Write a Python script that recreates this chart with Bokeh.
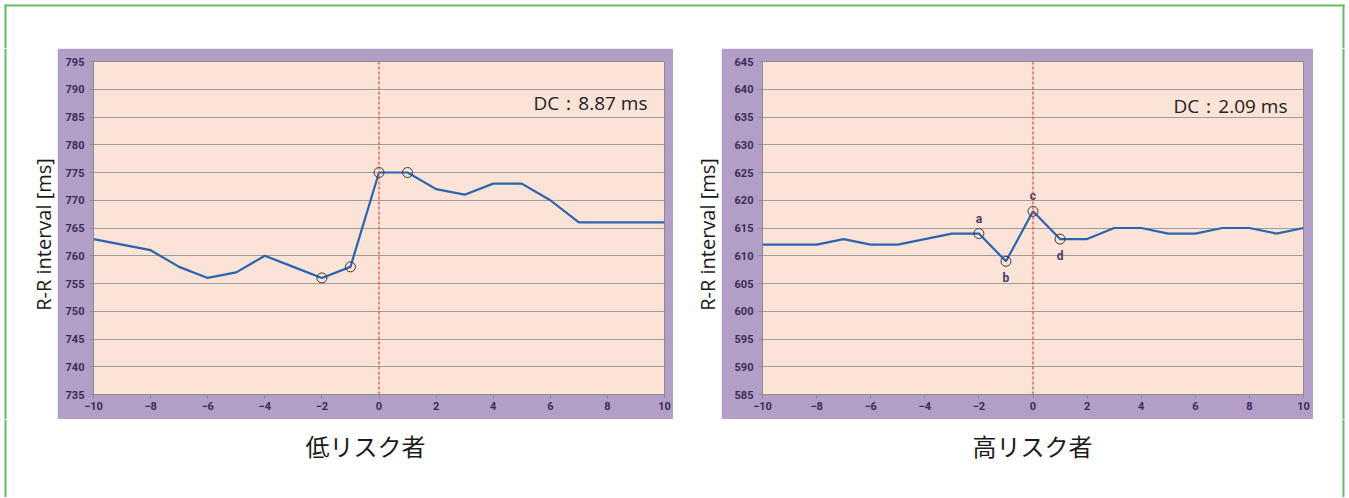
import math
from bokeh.plotting import figure
from bokeh.models import BoxAnnotation, Label, Span, Range1d, ColumnDataSource, FixedTicker
from bokeh.layouts import row, column
from bokeh.embed import file_html
from bokeh.resources import INLINE
from bokeh.core.properties import value

# ---------------- data ----------------
lags = list(range(-10, 11))
low_rr = [763, 762, 761, 758, 756, 757, 760, 758, 756, 758, 775,
          775, 772, 771, 773, 773, 770, 766, 766, 766, 766]
high_rr = [612, 612, 612, 613, 612, 612, 613, 614, 614, 609, 618,
           613, 613, 615, 615, 614, 614, 615, 615, 614, 615]
x_ticks = list(range(-10, 11, 2))
low_yticks = list(range(735, 796, 5))
high_yticks = list(range(585, 646, 5))
marked_lags = [-2, -1, 0, 1]
marker_names = ["a", "b", "c", "d"]
marker_above = [True, False, True, False]
low_title = "低リスク者"
high_title = "高リスク者"
low_dc = "DC：8.87 ms"
high_dc = "DC：2.09 ms"
y_label = "R-R interval [ms]"

# ---------------- style ----------------
PURPLE = "#b39ec8"
PINK = "#fbe3d8"
GRID = "#9c9c9c"
BLUE = "#2a64ad"
RED = "#e8413c"
GREEN = "#66bb66"
TICK_TXT = "#3a2c58"
JP = "Noto Sans CJK JP"
LAT = "Open Sans"
TICK_FONT = "Roboto"
TOTAL_W = 1348
TOP_H = 48
MID_H = 371
BOT_H = 78
B_TOP = 13
B_BOT = 25


def blank(w, h, top=0, bottom=0, left=0, right=0):
    f = figure(width=w, height=h, output_backend="svg", toolbar_location=None,
               min_border_left=left, min_border_right=right,
               min_border_top=top, min_border_bottom=bottom,
               x_axis_type=None, y_axis_type=None,
               x_range=Range1d(0, 1), y_range=Range1d(0, 1))
    f.outline_line_color = None
    f.background_fill_color = "white"
    f.border_fill_color = "white"
    return f


def green_box(f, l, r, b, t):
    f.add_layout(BoxAnnotation(left=l, right=r, bottom=b, top=t,
                               left_units="screen", right_units="screen",
                               bottom_units="screen", top_units="screen",
                               fill_color=GREEN, fill_alpha=1, line_alpha=0))


def side_strip(w, label_x=None, green_x=None):
    # a white strip of the middle row; its frame covers the full height
    f = blank(w, MID_H)
    if green_x is not None:
        green_box(f, green_x, green_x + 2, 0, MID_H)
    if label_x is not None:
        f.add_layout(Label(x=label_x, y=MID_H - (234 - TOP_H), x_units="screen", y_units="screen",
                           text=y_label, angle=math.pi / 2,
                           text_align="center", text_baseline="middle",
                           text_font=LAT, text_font_size="20px", text_color="#1a1a1a"))
    return column(f)


def chart(rr, yticks, dc, W, left, right, dc_pos, letters=False):
    p = figure(width=W, height=MID_H, output_backend="svg", toolbar_location=None,
               min_border_left=left, min_border_right=right,
               min_border_top=B_TOP, min_border_bottom=B_BOT,
               x_range=Range1d(lags[0], lags[-1]),
               y_range=Range1d(yticks[0], yticks[-1]))
    p.border_fill_color = PURPLE
    p.background_fill_color = PINK
    p.outline_line_color = "#8c8c8c"

    p.xgrid.visible = False
    p.ygrid.ticker = FixedTicker(ticks=yticks)
    p.ygrid.grid_line_color = GRID
    p.ygrid.grid_line_width = 1

    p.xaxis.ticker = FixedTicker(ticks=x_ticks)
    p.yaxis.ticker = FixedTicker(ticks=yticks)
    for ax in (p.xaxis[0], p.yaxis[0]):
        ax.axis_line_color = "#8c8c8c"
        ax.major_tick_line_color = "#8c8c8c"
        ax.major_tick_out = 4
        ax.major_tick_in = 0
        ax.minor_tick_line_color = None
        ax.major_label_text_font = TICK_FONT
        ax.major_label_text_font_style = "bold"
        ax.major_label_text_font_size = "11px"
        ax.major_label_text_color = TICK_TXT
    p.xaxis.major_label_standoff = 3
    p.yaxis.major_label_standoff = 5

    p.add_layout(Span(location=0, dimension="height", line_color=RED,
                      line_dash="3 2", line_width=1.2))

    p.line(lags, rr, line_color=BLUE, line_width=2.2)
    mx = marked_lags
    my = [rr[lags.index(v)] for v in mx]
    p.scatter(mx, my, size=10, fill_alpha=0, line_color="#3a3a3a", line_width=1)

    if letters:
        src = ColumnDataSource(dict(x=mx, y=my, t=marker_names,
                                    off=[-15 if a else 17 for a in marker_above]))
        p.text(x="x", y="y", text="t", y_offset="off", source=src,
               text_align="center", text_baseline="middle",
               text_font=value(TICK_FONT), text_font_style="bold",
               text_font_size="12px", text_color="#4a3b6b")

    p.add_layout(Label(x=dc_pos[0], y=dc_pos[1], x_units="screen", y_units="screen",
                       text=dc, text_align="right", text_baseline="middle",
                       text_font=LAT, text_font_size="19px", text_color="#222222"))
    return column(p)


# top band (y 0..48) with the green frame
top_band = blank(TOTAL_W, TOP_H)
green_box(top_band, 4, 1344, TOP_H - 6, TOP_H - 4)
green_box(top_band, 4, 6, 0, TOP_H - 4)
green_box(top_band, 1342, 1344, 0, TOP_H - 4)

# middle row (y 48..419)
pL = chart(low_rr, low_yticks, low_dc, W=616, left=36, right=9, dc_pos=(554, 292))
pR = chart(high_rr, high_yticks, high_dc, W=592, left=41, right=10, dc_pos=(525, 289),
           letters=True)
mid = row(side_strip(57, label_x=43, green_x=4), pL,
          side_strip(48, label_x=34), pR,
          side_strip(35, green_x=29))

# bottom band (y 419..497) with titles
bot_band = blank(TOTAL_W, BOT_H)
green_box(bot_band, 4, 6, 0, BOT_H)
green_box(bot_band, 1342, 1344, 0, BOT_H)
for cx, t in ((365, low_title), (1032, high_title)):
    bot_band.add_layout(Label(x=cx, y=BOT_H - 26, x_units="screen", y_units="screen",
                              text=t, text_align="center", text_baseline="middle",
                              text_font=JP, text_font_size="24px", text_color="#1a1a1a"))

root = column(top_band, mid, bot_band)
open("out.html", "w").write(file_html(root, INLINE))
